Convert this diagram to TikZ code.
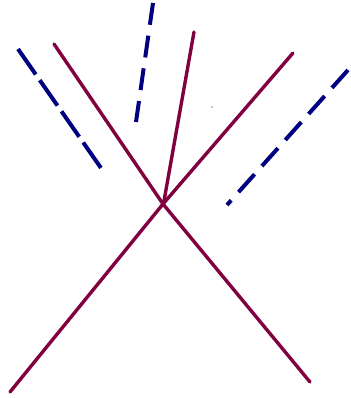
\documentclass[tikz,border=0pt]{standalone}
\usetikzlibrary{positioning}
\definecolor{wine}{RGB}{128,0,64}
\definecolor{navy}{RGB}{0,0,128}

\begin{document}
\begin{tikzpicture}[
  x=1pt, y=-1pt,
  solidline/.style={draw=wine, line width=3.4pt, line cap=round, line join=round},
  guideline/.style={draw=navy, line width=4pt}
]
\useasboundingbox (0,0) rectangle (350,398);

% crossing point
\coordinate (x) at (163,204);
\coordinate (xc) at (164,201);

% purple lines
\coordinate (a1) at (54,44);
\coordinate (a2) at (310,382);
\coordinate (b1) at (293,53);
\coordinate (b2) at (10,392);
\coordinate (c1) at (194,32);

% blue dashed lines
\coordinate (d1) at (18,49);
\coordinate (d2) at (101,168);
\coordinate (e1) at (153,3);
\coordinate (e2) at (136,122);
\coordinate (f1) at (348,70);
\coordinate (f2) at (227,205);

\draw [solidline] (a1) -- (x) -- (a2);
\draw [solidline] (b1) -- (x) -- (b2);
\draw [solidline] (c1) -- (xc);

\draw [guideline, dash pattern=on 31pt off 7pt] (d1) -- (d2);
\draw [guideline, dash pattern=on 22pt off 11pt] (e1) -- (e2);
\draw [guideline, dash pattern=on 24pt off 11pt] (f1) -- (f2);

% speck
\fill [navy] (212,107) circle (0.6pt);

\end{tikzpicture}
\end{document}
